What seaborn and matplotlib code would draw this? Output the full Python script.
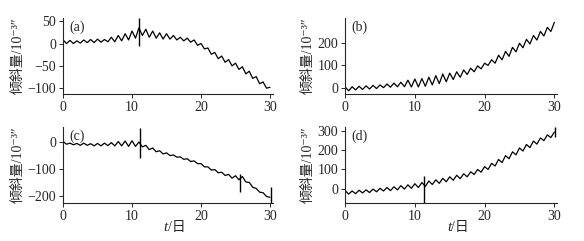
import numpy as np
import pandas as pd
import matplotlib
matplotlib.use("Agg")
import matplotlib.pyplot as plt
import seaborn as sns

sns.set_style("ticks")
plt.rcParams['font.family'] = ['Liberation Serif', 'Noto Sans CJK SC', 'DejaVu Sans']
plt.rcParams['axes.unicode_minus'] = True

# time samples (days), half-day steps
t_days = [0, 0.5, 1, 1.5, 2, 2.5, 3, 3.5, 4, 4.5, 5, 5.5, 6, 6.5, 7, 7.5, 8, 8.5, 9, 9.5,
          10, 10.5, 11, 11.5, 12, 12.5, 13, 13.5, 14, 14.5, 15, 15.5, 16, 16.5, 17, 17.5,
          18, 18.5, 19, 19.5, 20, 20.5, 21, 21.5, 22, 22.5, 23, 23.5, 24, 24.5, 25, 25.5,
          26, 26.5, 27, 27.5, 28, 28.5, 29, 29.5, 30]

tilt_a = [8, 0, 7, 0, 6, 1, 8, 2, 9, 2, 10, 3, 9, 4, 14, 4, 18, 6, 22, 8,
          28, 12, 35, 18, 32, 14, 28, 12, 24, 10, 22, 10, 18, 8, 14, 6,
          12, 3, 8, -4, 0, -12, -10, -24, -20, -34, -28, -42, -36, -50, -44, -58,
          -52, -68, -62, -78, -74, -90, -86, -100, -98]

tilt_b = [5, -12, 6, -8, 8, -6, 10, -4, 12, -2, 14, 2, 18, 4, 22, 6, 26, 6, 35, 5,
          40, 5, 42, 8, 48, 14, 55, 20, 62, 28, 66, 38, 72, 48, 80, 60,
          88, 72, 98, 85, 110, 100, 125, 110, 145, 125, 162, 140, 180, 160, 198, 178,
          215, 195, 232, 212, 250, 230, 268, 250, 290]

tilt_c = [2, -8, -4, -10, -5, -12, -4, -12, -6, -14, -5, -14, -4, -13, -2, -14, 2, -14, 4, -16,
          5, -16, 0, -18, -12, -28, -22, -36, -32, -44, -40, -50, -48, -56, -55, -64,
          -62, -72, -70, -80, -80, -92, -92, -104, -102, -114, -112, -124, -120, -134, -125, -140,
          -128, -148, -150, -168, -172, -186, -188, -202, -205]

tilt_d = [-10, -28, -12, -26, -8, -22, -6, -20, -2, -16, 2, -12, 6, -10, 10, -6, 16, -2, 20, 2,
          26, 6, 32, 12, 40, 22, 46, 28, 54, 36, 62, 44, 70, 52, 78, 62,
          88, 74, 100, 86, 115, 100, 132, 118, 152, 136, 172, 156, 192, 176, 212, 196,
          230, 214, 248, 232, 264, 250, 280, 266, 295]

# spikes (vertical jumps): time, low, high
spike_a_t, spike_a_lo, spike_a_hi = [11.0], [-5], [57]
spike_b_t, spike_b_lo, spike_b_hi = [], [], []
spike_c_t, spike_c_lo, spike_c_hi = [11.2, 25.7, 30.2], [-58, -185, -225], [52, -120, -165]
spike_d_t, spike_d_lo, spike_d_hi = [11.3, 30.1], [-74, 268], [65, 320]

panels = [
    ("(a)", tilt_a, (spike_a_t, spike_a_lo, spike_a_hi), (-113, 57), [-100, -50, 0, 50]),
    ("(b)", tilt_b, (spike_b_t, spike_b_lo, spike_b_hi), (-26, 309), [0, 100, 200]),
    ("(c)", tilt_c, (spike_c_t, spike_c_lo, spike_c_hi), (-226, 56), [-200, -100, 0]),
    ("(d)", tilt_d, (spike_d_t, spike_d_lo, spike_d_hi), (-74, 321), [0, 100, 200, 300]),
]

fig = plt.figure(figsize=(5.84, 2.41), dpi=100)
rects = [
    [0.108, 0.610, 0.359, 0.315],
    [0.591, 0.610, 0.363, 0.315],
    [0.108, 0.158, 0.359, 0.315],
    [0.591, 0.158, 0.363, 0.315],
]

ylabel = "倾斜量/10\u207b\u00b3\u2033"

for i, (lab, vals, spk, ylim, yt) in enumerate(panels):
    ax = fig.add_axes(rects[i])
    df = pd.DataFrame({"t": t_days, "v": vals})
    sns.lineplot(data=df, x="t", y="v", ax=ax, color="black", lw=0.9,
                 estimator=None, sort=False)
    if spk[0]:
        ax.vlines(spk[0], spk[1], spk[2], color="black", lw=1.0)
    ax.set_xlim(0, 30.4)
    ax.set_ylim(*ylim)
    ax.set_xticks([0, 10, 20, 30])
    ax.set_yticks(yt)
    ax.tick_params(axis="both", labelsize=10, length=3, width=0.7, direction="out", pad=2)
    for s in ["top", "right"]:
        ax.spines[s].set_visible(False)
    for s in ["left", "bottom"]:
        ax.spines[s].set_linewidth(0.8)
    ax.set_xlabel("")
    ax.set_ylabel(ylabel, fontsize=10, labelpad=2)
    ax.text(0.03, 0.97, lab, transform=ax.transAxes, fontsize=10, va="top", ha="left")
    if i >= 2:
        ax.text(0.5, -0.24, "t", transform=ax.transAxes, fontsize=11, style="italic",
                ha="right", va="top")
        ax.text(0.5, -0.24, "/日", transform=ax.transAxes, fontsize=10,
                ha="left", va="top", family=['Liberation Serif', 'Noto Sans CJK SC'])

fig.savefig("out.png", dpi=100)
